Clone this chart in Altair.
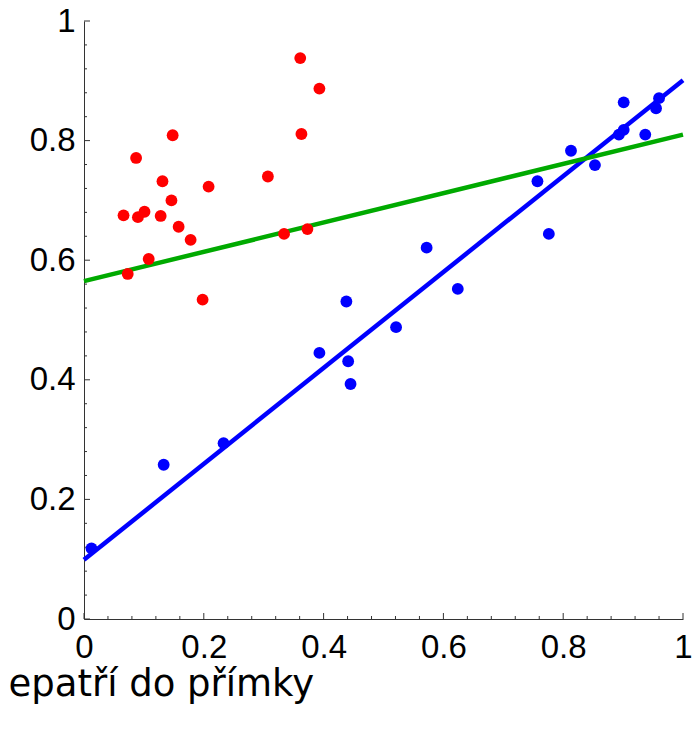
import altair as alt
import pandas as pd

# Red points (do not belong to the line)
red_x = [0.066, 0.087, 0.090, 0.101, 0.131, 0.128, 0.146, 0.148, 0.158, 0.178,
         0.208, 0.108, 0.073, 0.198, 0.361, 0.393, 0.363, 0.307, 0.334, 0.373]
red_y = [0.675, 0.771, 0.672, 0.681, 0.732, 0.674, 0.700, 0.809, 0.656, 0.634,
         0.723, 0.602, 0.577, 0.534, 0.938, 0.887, 0.811, 0.740, 0.644, 0.652]

# Blue points (belong to the line)
blue_x = [0.901, 0.960, 0.955, 0.901, 0.893, 0.937, 0.813, 0.853, 0.757, 0.776,
          0.572, 0.624, 0.438, 0.521, 0.393, 0.441, 0.445, 0.133, 0.233, 0.0125]
blue_y = [0.864, 0.871, 0.854, 0.818, 0.810, 0.810, 0.783, 0.759, 0.732, 0.644,
          0.621, 0.552, 0.531, 0.488, 0.445, 0.431, 0.393, 0.258, 0.294, 0.118]

# Fitted lines
line_x = [0.0, 1.0]
blue_line_y = [0.099, 0.901]
green_line_y = [0.565, 0.810]

# Axis ticks
tick_major = [0.0, 0.2, 0.4, 0.6, 0.8, 1.0]
tick_minor = [0.04, 0.08, 0.12, 0.16, 0.24, 0.28, 0.32, 0.36, 0.44, 0.48,
              0.52, 0.56, 0.64, 0.68, 0.72, 0.76, 0.84, 0.88, 0.92, 0.96]

axis_title = "epatří do přímky"

red_df = pd.DataFrame({"x": red_x, "y": red_y})
blue_df = pd.DataFrame({"x": blue_x, "y": blue_y})
bline_df = pd.DataFrame({"x": line_x, "y": blue_line_y})
gline_df = pd.DataFrame({"x": line_x, "y": green_line_y})
major_df = pd.DataFrame({"t": tick_major})
minor_df = pd.DataFrame({"t": tick_minor})

xs = alt.Scale(domain=[0, 1], nice=False, zero=False)
ys = alt.Scale(domain=[0, 1], nice=False, zero=False)

AX_COL = "#333333"
LBL_FONT = "Liberation Sans"
LBL_SIZE = 33
W = 599
H = 598

x_axis = alt.Axis(
    values=tick_major, labelExpr="format(datum.value, '~g')",
    ticks=False, tickSize=0, grid=False,
    domainColor=AX_COL, domainWidth=1,
    labelFont=LBL_FONT, labelFontSize=LBL_SIZE, labelColor="black",
    labelPadding=12, labelFlush=False, labelOverlap=False,
    title=axis_title, titleFont="DejaVu Sans", titleFontSize=37,
    titleFontWeight="normal", titleColor="black",
    titleX=-76, titleY=76, titleAlign="left", titleBaseline="alphabetic",
)
y_axis = alt.Axis(
    values=tick_major, labelExpr="format(datum.value, '~g')",
    ticks=False, tickSize=0, grid=False,
    domainColor=AX_COL, domainWidth=1,
    labelFont=LBL_FONT, labelFontSize=LBL_SIZE, labelColor="black",
    labelPadding=9, labelFlush=False, labelOverlap=False,
    title=None,
)

X = lambda f: alt.X(f, scale=xs, axis=x_axis)
Y = lambda f: alt.Y(f, scale=ys, axis=y_axis)

blue_line = alt.Chart(bline_df).mark_line(color="#0000ff", strokeWidth=4.5).encode(
    x=X("x:Q"), y=Y("y:Q"))
green_line = alt.Chart(gline_df).mark_line(color="#00aa00", strokeWidth=4.5).encode(
    x=X("x:Q"), y=Y("y:Q"))

red_pts = alt.Chart(red_df).mark_circle(color="#ff0000", size=140, opacity=1).encode(
    x=X("x:Q"), y=Y("y:Q"))
blue_pts = alt.Chart(blue_df).mark_circle(color="#0000ff", size=140, opacity=1).encode(
    x=X("x:Q"), y=Y("y:Q"))

xmaj = alt.Chart(major_df).mark_rule(color=AX_COL, strokeWidth=1).encode(
    x=X("t:Q"), y=alt.value(H), y2=alt.value(H - 6))
xmin = alt.Chart(minor_df).mark_rule(color=AX_COL, strokeWidth=1).encode(
    x=X("t:Q"), y=alt.value(H), y2=alt.value(H - 3))
ymaj = alt.Chart(major_df).mark_rule(color=AX_COL, strokeWidth=1).encode(
    y=Y("t:Q"), x=alt.value(0), x2=alt.value(6))
ymin = alt.Chart(minor_df).mark_rule(color=AX_COL, strokeWidth=1).encode(
    y=Y("t:Q"), x=alt.value(0), x2=alt.value(3))

chart = alt.layer(
    xmaj, xmin, ymaj, ymin, blue_line, green_line, red_pts, blue_pts
).properties(
    width=W, height=H,
    autosize=alt.AutoSizeParams(type="none"),
    padding={"left": 76, "top": 13, "right": 9, "bottom": 92},
).configure_view(stroke=None)

chart.save("out.html", embed_options={"renderer": "svg", "actions": False})
